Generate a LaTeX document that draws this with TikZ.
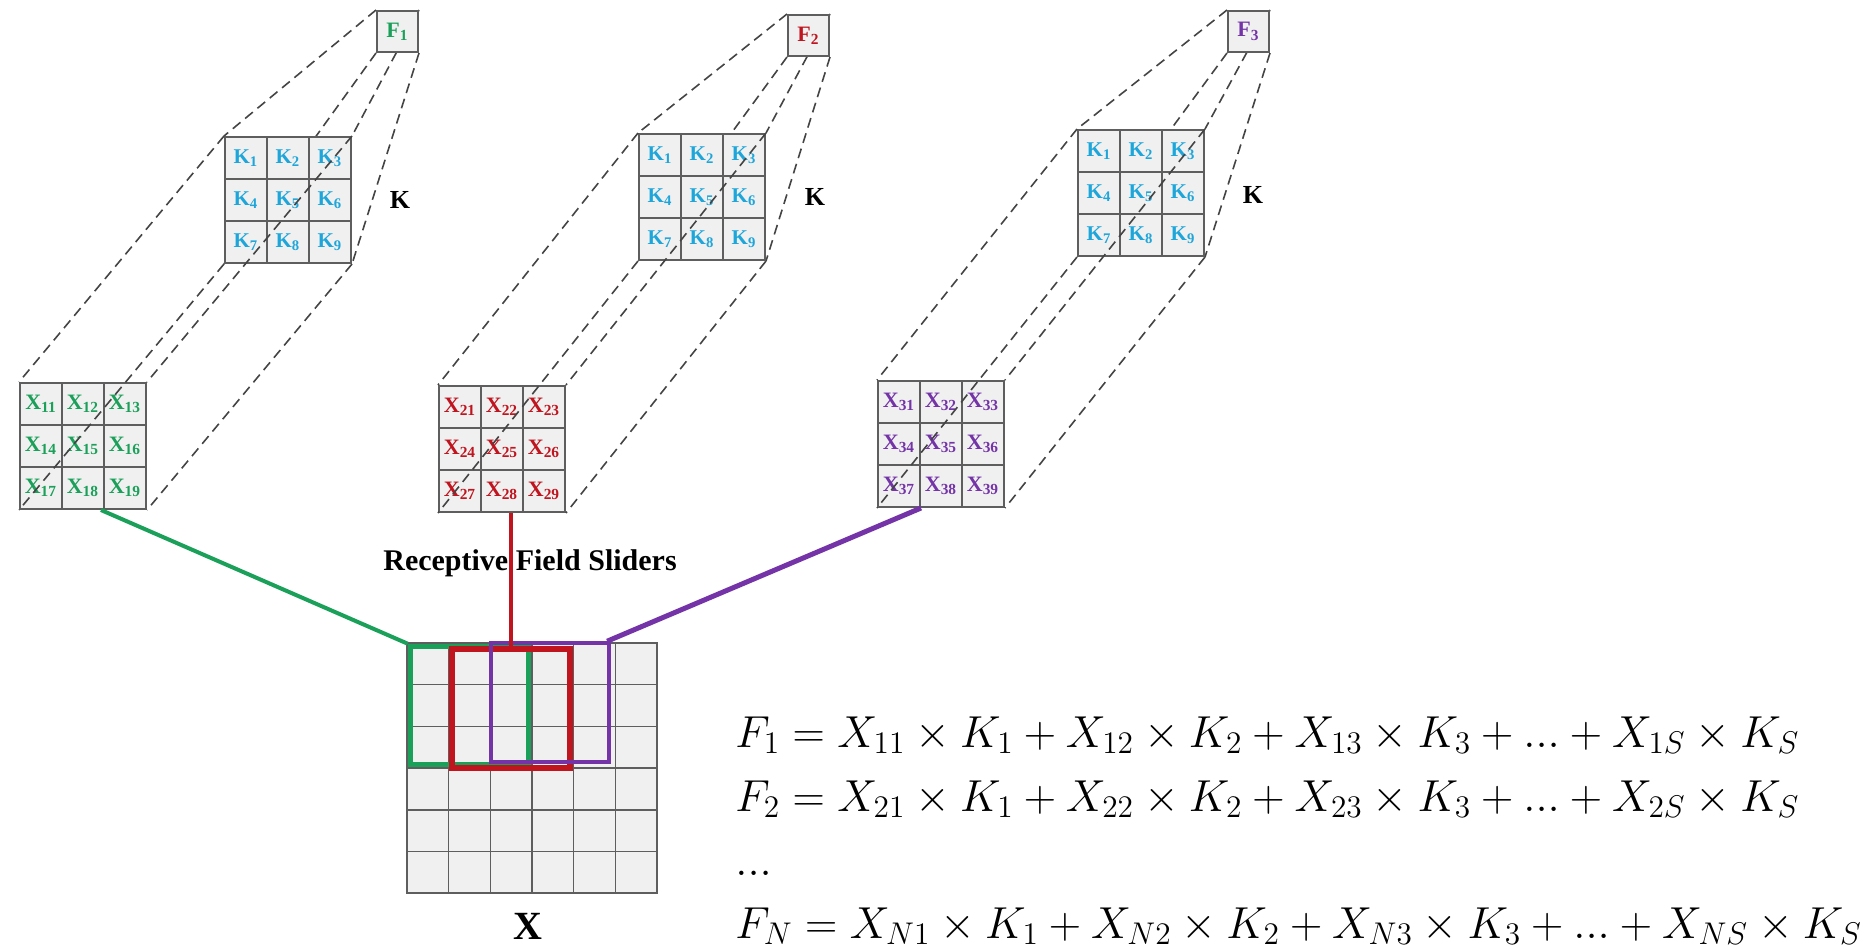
\RequirePackage{fix-cm}
\documentclass[tikz,border=0pt]{standalone}
\usepackage{amsmath}
\usepackage{fontspec}
\newfontfamily\tnr{Liberation Serif}
\usetikzlibrary{positioning,fit,backgrounds}
\definecolor{Leaf}{HTML}{1BA05A}
\definecolor{Brick}{HTML}{C0141E}
\definecolor{Plum}{HTML}{7434A8}
\definecolor{Sky}{HTML}{1EA6DA}
\definecolor{Grid}{HTML}{5E5E5E}
\definecolor{Cell}{HTML}{F0F0F0}
\definecolor{Dash}{HTML}{444444}

\begin{document}
\begin{tikzpicture}[x=0.5pt,y=-0.5pt,
    cellk/.style={draw=Grid,fill=Cell,line width=1pt,minimum size=21pt,inner sep=0pt,
      text=Sky,font=\tnr\bfseries\fontsize{10.5}{10.5}\selectfont},
    cellx/.style={cellk,font=\tnr\bfseries\fontsize{11}{11}\selectfont},
    fbox/.style={cellk,minimum size=20.5pt,font=\tnr\bfseries\fontsize{11}{11}\selectfont},
    cellin/.style={draw=Grid,fill=Cell,line width=0.8pt,minimum size=20.83pt,inner sep=0pt},
    dashline/.style={Dash,line width=0.8pt,dash pattern=on 5pt off 3pt},
    slider/.style={draw=#1,inner sep=-2pt},
    eqn/.style={anchor=base west,inner sep=0pt,font=\fontsize{22.4}{26}\selectfont}
  ]
  \useasboundingbox (0,0) rectangle (1873,949);
  % three receptive fields, kernels and outputs
  \foreach \g/\fx/\fy/\kx/\ky/\xx/\xy/\clr/\lx/\ly in
      {1/377/11/225/137/20/383/Leaf/400/200,
       2/788/15/639/134/439/386/Brick/815/197,
       3/1228/11/1078/130/878/381/Plum/1253/195}{
    \node[fbox,text=\clr] (f\g) at ({\fx+20.5},{\fy+20.5}) {F\textsubscript{\g}};
    \foreach \n in {1,...,9}{
      \pgfmathtruncatemacro\r{(\n-1)/3}
      \pgfmathtruncatemacro\c{mod(\n-1,3)}
      \node[cellk] (k\g-\n) at ({\kx+21+42*\c},{\ky+21+42*\r}) {K\textsubscript{\n}};
      \node[cellx,text=\clr] (x\g-\n) at ({\xx+21+42*\c},{\xy+21+42*\r}) {X\textsubscript{\g\n}};
    }
    \node[font=\tnr\bfseries\fontsize{13}{13}\selectfont] (klab\g) at (\lx,\ly) {K};
    \begin{pgfonlayer}{background}
      \draw[dashline] (f\g.north west) -- (k\g-1.north west);
      \draw[dashline] (f\g.north east) -- (k\g-3.north east);
      \draw[dashline] (f\g.south west) -- (k\g-7.south west);
      \draw[dashline] (f\g.south east) -- (k\g-9.south east);
    \end{pgfonlayer}
    \draw[dashline] (k\g-1.north west) -- (x\g-1.north west);
    \draw[dashline] (k\g-3.north east) -- (x\g-3.north east);
    \draw[dashline] (k\g-7.south west) -- (x\g-7.south west);
    \draw[dashline] (k\g-9.south east) -- (x\g-9.south east);
  }
  % input map
  \foreach \r in {1,...,6}
    \foreach \c in {1,...,6}
      \node[cellin] (in-\r-\c) at ({407+41.67*(\c-0.5)},{643+41.67*(\r-0.5)}) {};
  \node[slider=Leaf,line width=2.5pt,fit=(in-1-1)(in-3-3)] (gfr) {};
  \node[slider=Brick,line width=3pt,yshift=-1.5pt,fit=(in-1-2)(in-3-4)] (rfr) {};
  \node[slider=Plum,line width=2pt,xshift=-1.5pt,yshift=1.5pt,fit=(in-1-3)(in-3-5)] (pfr) {};
  \node[font=\tnr\bfseries\fontsize{15}{15}\selectfont] (rfs) at (530,563) {Receptive Field Sliders};
  \node[font=\tnr\bfseries\fontsize{20}{20}\selectfont] (xlab) at (528,926) {X};
  \draw[Leaf,line width=2pt] ([xshift=-2pt]x1-8.south east) -- (gfr.north west);
  \draw[Brick,line width=2pt] (rfr.north) -- (rfr.north |- x2-8.south);
  \draw[Plum,line width=2.5pt] (x3-7.south east) -- ([xshift=-2pt]pfr.north east);
  % equations
  \node[eqn] (eq1) at (735,747) {$F_1 = X_{11}\times K_1 + X_{12}\times K_2 + X_{13}\times K_3 + ... + X_{1S}\times K_S$};
  \node[eqn] (eq2) at (735,811) {$F_2 = X_{21}\times K_1 + X_{22}\times K_2 + X_{23}\times K_3 + ... + X_{2S}\times K_S$};
  \node[eqn] (eqd) at (735,875) {$...$};
  \node[eqn] (eqN) at (735,938) {$F_N = X_{N1}\times K_1 + X_{N2}\times K_2 + X_{N3}\times K_3 + ... + X_{NS}\times K_S$};
\end{tikzpicture}
\end{document}
